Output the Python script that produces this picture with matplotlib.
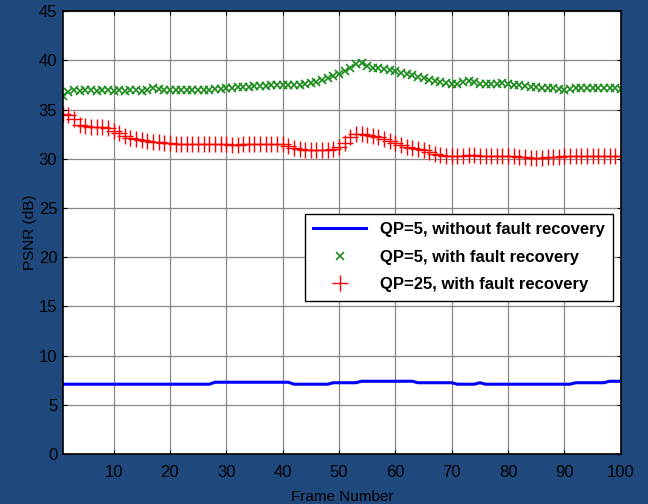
import numpy as np
import matplotlib
matplotlib.use("Agg")
import matplotlib.pyplot as plt

plt.rcParams['font.family'] = ['Liberation Sans', 'DejaVu Sans']

frames = list(range(1, 101))

psnr_qp5_nofr = ([7.1] * 27 + [7.3] * 14 + [7.1] * 7 + [7.25] * 5 + [7.4] * 10 +
                 [7.25] * 7 + [7.1] * 4 + [7.25] + [7.1] * 16 + [7.25] * 6 + [7.4] * 3)

psnr_qp5_fr = [
    36.4, 36.8, 37.0, 36.9, 37.0, 37.0, 36.9, 37.0, 37.0, 36.9,
    37.0, 36.9, 37.0, 37.0, 36.9, 37.0, 37.2, 37.1, 37.0, 37.0,
    37.0, 37.0, 37.0, 37.0, 37.0, 37.0, 37.0, 37.1, 37.1, 37.2,
    37.2, 37.3, 37.3, 37.3, 37.4, 37.4, 37.4, 37.5, 37.5, 37.5,
    37.5, 37.5, 37.5, 37.6, 37.7, 37.8, 38.0, 38.2, 38.4, 38.6,
    38.9, 39.2, 39.6, 39.7, 39.4, 39.2, 39.2, 39.1, 39.0, 38.9,
    38.7, 38.6, 38.5, 38.3, 38.2, 38.0, 37.9, 37.8, 37.7, 37.6,
    37.6, 37.8, 37.9, 37.8, 37.6, 37.6, 37.6, 37.6, 37.7, 37.6,
    37.5, 37.5, 37.4, 37.3, 37.3, 37.2, 37.2, 37.2, 37.1, 37.0,
    37.1, 37.2, 37.2, 37.2, 37.2, 37.2, 37.2, 37.2, 37.2, 37.1,
]

psnr_qp25_fr = [
    34.5, 34.4, 34.0, 33.4, 33.3, 33.2, 33.2, 33.2, 33.1, 32.8,
    32.6, 32.3, 32.1, 32.0, 31.9, 31.8, 31.7, 31.7, 31.6, 31.6,
    31.5, 31.5, 31.5, 31.5, 31.5, 31.5, 31.5, 31.5, 31.5, 31.5,
    31.4, 31.4, 31.5, 31.5, 31.5, 31.5, 31.5, 31.5, 31.5, 31.5,
    31.3, 31.1, 31.0, 30.9, 30.9, 30.9, 30.9, 30.9, 31.0, 31.2,
    31.6, 32.2, 32.5, 32.5, 32.4, 32.3, 32.2, 32.0, 31.8, 31.6,
    31.4, 31.2, 31.1, 31.0, 30.9, 30.7, 30.5, 30.4, 30.3, 30.3,
    30.3, 30.3, 30.4, 30.4, 30.3, 30.3, 30.3, 30.3, 30.3, 30.3,
    30.3, 30.2, 30.2, 30.1, 30.1, 30.1, 30.2, 30.2, 30.2, 30.3,
    30.3, 30.3, 30.3, 30.3, 30.3, 30.3, 30.3, 30.3, 30.3, 30.3,
]

labels = ["QP=5, without fault recovery", "QP=5, with fault recovery",
          "QP=25, with fault recovery"]

bg = "#1f497d"
fig = plt.figure(figsize=(6.48, 5.04), dpi=100, facecolor=bg)
ax = fig.add_axes([0.097, 0.099, 0.861, 0.879])
ax.set_facecolor("white")

ax.plot(frames, psnr_qp5_nofr, color="blue", linewidth=2.2, label=labels[0])
ax.plot(frames, psnr_qp5_fr, linestyle="none", marker="x", color="#1a8c1a",
        markersize=6, markeredgewidth=1.2, label=labels[1])
ax.plot(frames, psnr_qp25_fr, linestyle="none", marker="+", color="red",
        markersize=11, markeredgewidth=1.0, label=labels[2])

ax.set_xlim(1, 100)
ax.set_ylim(0, 45)
ax.set_xticks(range(10, 101, 10))
ax.set_yticks(range(0, 46, 5))
ax.grid(True, color="#888888", linewidth=0.9)
ax.set_axisbelow(True)
ax.tick_params(direction="in", length=3, labelsize=12, colors="black",
               top=True, right=True)
ax.tick_params(axis="x", pad=8)
ax.tick_params(axis="y", pad=4)
for s in ax.spines.values():
    s.set_color("black")
    s.set_linewidth(1.2)

ax.set_xlabel("Frame Number", fontsize=11, labelpad=7)
ax.set_ylabel("PSNR (dB)", fontsize=11, labelpad=1)

leg = ax.legend(loc="upper right", bbox_to_anchor=(0.986, 0.542), borderaxespad=0,
                fancybox=False, edgecolor="black", framealpha=1,
                prop={"weight": "bold", "size": 12},
                handlelength=3.2, borderpad=0.5, labelspacing=0.75)
leg.get_frame().set_linewidth(1.0)

fig.savefig("out.png", dpi=100, facecolor=bg)
